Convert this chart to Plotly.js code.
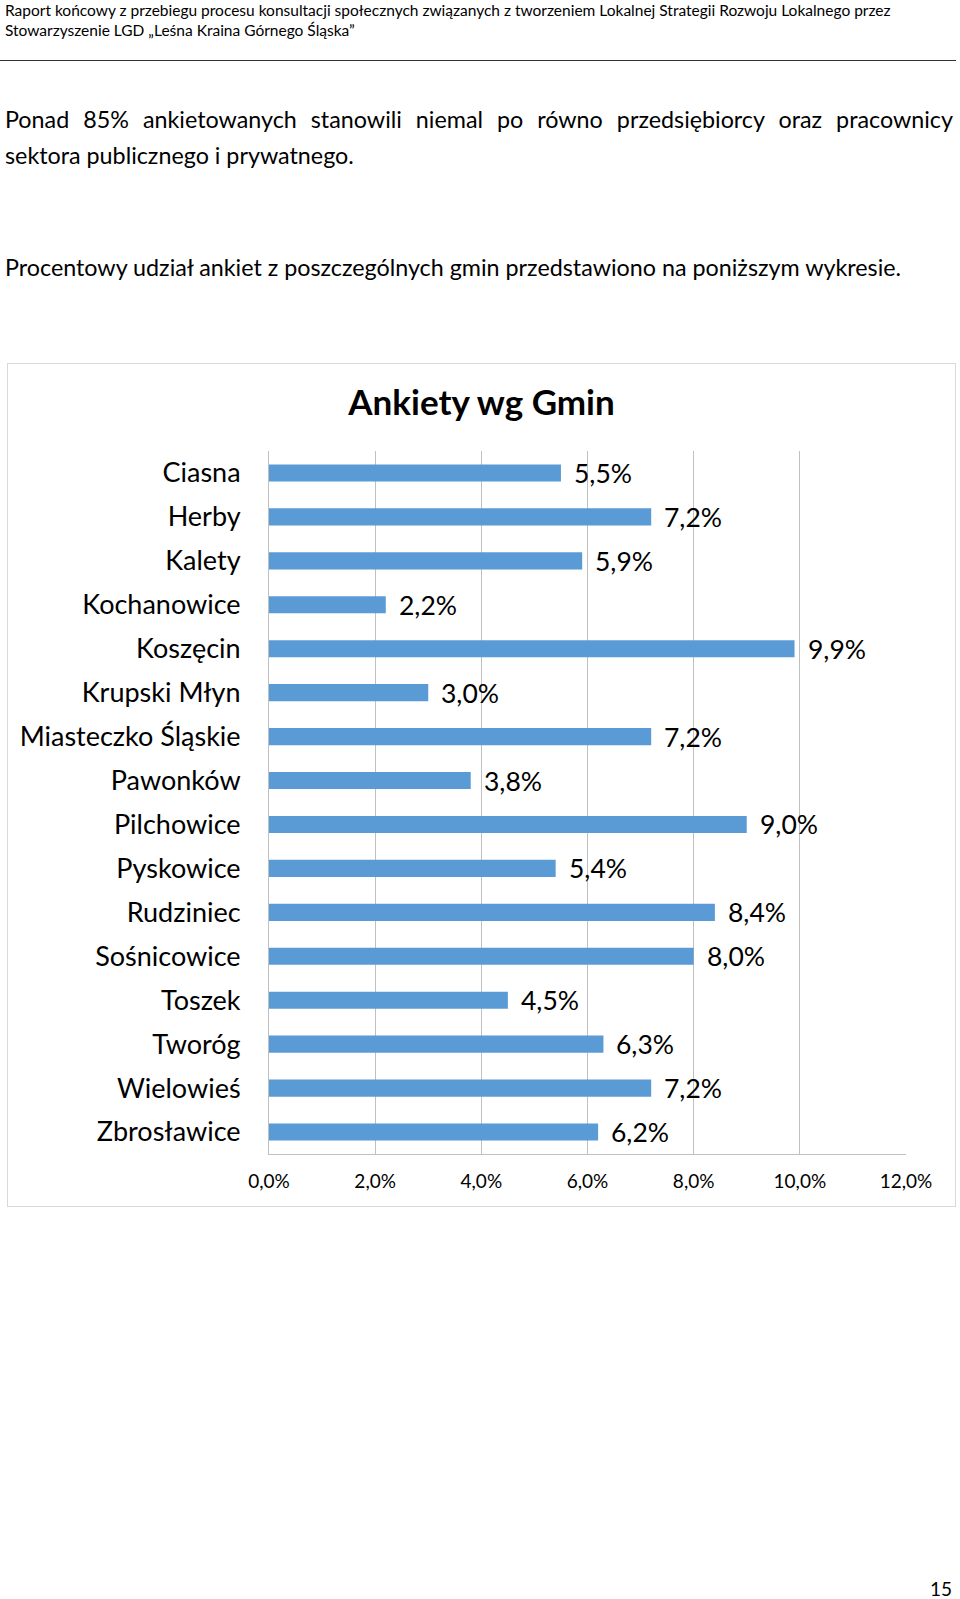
<!DOCTYPE html>
<html>
<head>
<meta charset="utf-8">
<script src="https://cdn.plot.ly/plotly-3.0.1.min.js"></script>
<style>
  html, body { margin: 0; padding: 0; background: #fff; width: 960px; height: 1599px; overflow: hidden; }
  body { position: relative; font-family: Lato, "Open Sans", sans-serif; color: #000; }
  .hdr { position: absolute; left: 5px; top: 0px; font-size: 15.5px; line-height: 20px; white-space: nowrap; }
  .rule { position: absolute; left: 0; top: 60px; width: 956px; height: 0; border-top: 1.5px solid #333; }
  .l1 { position: absolute; left: 5px; top: 101px; width: 948px; font-size: 23.3px; line-height: 36px; text-align: justify; text-align-last: justify; white-space: nowrap; }
  .l2 { position: absolute; left: 5px; top: 137px; font-size: 23.3px; line-height: 36px; white-space: nowrap; }
  .p2 { position: absolute; left: 5px; top: 249px; font-size: 23.3px; line-height: 36px; white-space: nowrap; }
  #box { position: absolute; left: 7px; top: 363px; width: 947px; height: 842px; border: 1px solid #d9d9d9; }
  .pg { position: absolute; left: 930px; top: 1577px; font-size: 19px; }
</style>
</head>
<body>
<div class="hdr">Raport końcowy z przebiegu procesu konsultacji społecznych związanych z tworzeniem Lokalnej Strategii Rozwoju Lokalnego przez<br>Stowarzyszenie LGD „Leśna Kraina Górnego Śląska”</div>
<div class="rule"></div>
<div class="l1">Ponad 85% ankietowanych stanowili niemal po równo przedsiębiorcy oraz pracownicy</div>
<div class="l2">sektora publicznego i prywatnego.</div>
<div class="p2">Procentowy udział ankiet z poszczególnych gmin przedstawiono na poniższym wykresie.</div>
<div id="box"><div id="chart"></div></div>
<div class="pg">15</div>
<script>
const categories = ["Ciasna", "Herby", "Kalety", "Kochanowice", "Koszęcin", "Krupski Młyn",
  "Miasteczko Śląskie", "Pawonków", "Pilchowice", "Pyskowice", "Rudziniec", "Sośnicowice",
  "Toszek", "Tworóg", "Wielowieś", "Zbrosławice"];
const values = [5.5, 7.2, 5.9, 2.2, 9.9, 3.0, 7.2, 3.8, 9.0, 5.4, 8.4, 8.0, 4.5, 6.3, 7.2, 6.2];
const tickValues = [0, 2, 4, 6, 8, 10, 12];
const tickLabels = ["0,0%", "2,0%", "4,0%", "6,0%", "8,0%", "10,0%", "12,0%"];
const chartTitle = "Ankiety wg Gmin";

const fmt = v => v.toFixed(1).replace('.', ',') + '%';
const FONT = 'Lato, "Open Sans", sans-serif';

const trace = {
  type: 'bar',
  orientation: 'h',
  x: values,
  y: categories,
  marker: { color: '#5b9bd5' },
  hoverinfo: 'skip'
};

const annotations = values.map((v, i) => ({
  x: v, y: categories[i], xref: 'x', yref: 'y',
  text: fmt(v), showarrow: false, xanchor: 'left', yanchor: 'middle',
  xshift: 11, yshift: 0,
  font: { family: FONT, size: 26.5, color: '#000' }
}));

const layout = {
  width: 947, height: 842,
  margin: { l: 261, r: 49, t: 87, b: 52 },
  paper_bgcolor: '#fff', plot_bgcolor: '#fff',
  showlegend: false,
  bargap: 0.61,
  title: {
    text: chartTitle, xref: 'container', yref: 'container', x: 0.5, y: 0.9537,
    xanchor: 'center', yanchor: 'middle',
    font: { family: FONT, size: 35, color: '#000', weight: 'bold' }
  },
  xaxis: {
    range: [0, 12], tickvals: tickValues, ticktext: tickLabels,
    showgrid: true, gridcolor: '#c0c0c0', gridwidth: 1,
    zeroline: false, showline: true, linecolor: '#c0c0c0', linewidth: 1,
    ticks: '', ticklabelstandoff: 10,
    tickfont: { family: FONT, size: 19, color: '#000' },
    fixedrange: true
  },
  yaxis: {
    autorange: 'reversed', type: 'category',
    showgrid: false, zeroline: false, showline: true, linecolor: '#c0c0c0', linewidth: 1,
    ticks: '', ticklabelstandoff: 22,
    tickfont: { family: FONT, size: 27, color: '#000' },
    fixedrange: true
  },
  annotations: annotations
};

Plotly.newPlot('chart', [trace], layout, { displayModeBar: false, staticPlot: true });
</script>
</body>
</html>
